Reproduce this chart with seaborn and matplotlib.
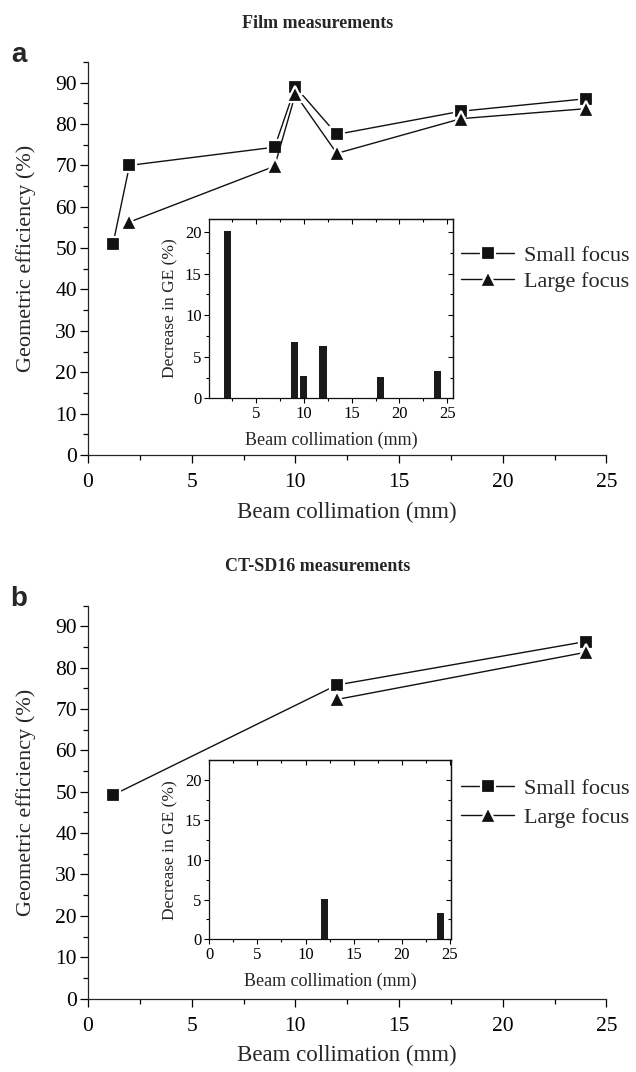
"""
Geometric efficiency vs beam collimation, film and CT-SD16 measurements
"""

import matplotlib
matplotlib.use("Agg")
import matplotlib.pyplot as plt
from matplotlib.ticker import MultipleLocator
import seaborn as sns

# Panel a - film measurements
FILM_SMALL_X = [1.2, 2, 9, 10, 12, 18, 24]
FILM_SMALL_GE = [50.9, 70.0, 74.4, 89.0, 77.5, 83.1, 86.1]
FILM_LARGE_X = [2, 9, 10, 12, 18, 24]
FILM_LARGE_GE = [56.3, 69.8, 87.2, 72.9, 81.3, 83.7]
FILM_DECREASE_X = [2, 9, 10, 12, 18, 24]
FILM_DECREASE = [20.1, 6.8, 2.7, 6.3, 2.6, 3.3]

# Panel b - CT-SD16 measurements
SD16_SMALL_X = [1.2, 12, 24]
SD16_SMALL_GE = [49.2, 75.8, 86.3]
SD16_LARGE_X = [12, 24]
SD16_LARGE_GE = [72.3, 83.7]
SD16_DECREASE_X = [12, 24]
SD16_DECREASE = [5.1, 3.3]

SERIES_LABELS = ['Small focus', 'Large focus']
XLABEL = 'Beam collimation (mm)'
YLABEL = 'Geometric efficiency (%)'
INSET_YLABEL = 'Decrease in GE (%)'

sns.set_theme(style='ticks')
plt.rcParams['font.family'] = ['Liberation Serif', 'DejaVu Serif']
plt.rcParams['axes.linewidth'] = 0.9
plt.rcParams['xtick.color'] = 'black'
plt.rcParams['ytick.color'] = 'black'

INK = '#111111'


def draw_panel(fig, rect, letter, title, small_x, small_y, large_x, large_y,
               bar_x, bar_y, inset_box, inset_xlim, inset_ylim, inset_xticks,
               legend_y, legend_spacing):
    ax = fig.add_axes(rect)

    sns.lineplot(x=small_x, y=small_y, ax=ax, color=INK, marker='s',
                 markersize=10, markeredgecolor='white', markeredgewidth=1.6,
                 linewidth=1.0, sort=False, label=SERIES_LABELS[0])
    sns.lineplot(x=large_x, y=large_y, ax=ax, color=INK, marker='^',
                 markersize=11.5, markeredgecolor='white', markeredgewidth=1.6,
                 linewidth=1.0, sort=False, label=SERIES_LABELS[1])

    ax.set_xlim(0, 25)
    ax.set_ylim(0, 95)
    ax.xaxis.set_major_locator(MultipleLocator(5))
    ax.xaxis.set_minor_locator(MultipleLocator(2.5))
    ax.yaxis.set_major_locator(MultipleLocator(10))
    ax.yaxis.set_minor_locator(MultipleLocator(5))
    ax.set_yticks(range(0, 91, 10))
    ax.tick_params(which='major', direction='out', length=6, width=0.9,
                   labelsize=15.5)
    ax.tick_params(which='minor', direction='out', length=3.5, width=0.9)
    ax.tick_params(axis='x', which='major', pad=7)
    ax.tick_params(axis='y', which='major', pad=2)
    sns.despine(ax=ax)
    ax.set_xlabel(XLABEL, fontsize=16.5, labelpad=7)
    ax.set_ylabel(YLABEL, fontsize=16, labelpad=14)

    handles = ax.get_lines()[:2]
    ax.legend(handles, SERIES_LABELS, loc='center left',
              bbox_to_anchor=(0.7195, legend_y), frameon=False,
              borderaxespad=0, borderpad=0, handlelength=2.4,
              handletextpad=0.45, labelspacing=legend_spacing, fontsize=16)

    # Inset with the decrease in GE
    ins = ax.inset_axes(inset_box, transform=ax.transData)
    ins.set_facecolor('white')
    ins.bar(bar_x, bar_y, width=0.75, color='#1a1a1a', linewidth=0)
    ins.set_xlim(*inset_xlim)
    ins.set_ylim(*inset_ylim)
    ins.set_xticks(inset_xticks)
    ins.xaxis.set_minor_locator(MultipleLocator(2.5))
    ins.yaxis.set_major_locator(MultipleLocator(5))
    ins.yaxis.set_minor_locator(MultipleLocator(2.5))
    ins.tick_params(which='major', direction='out', length=3.5, width=0.8,
                    labelsize=12, pad=2)
    ins.tick_params(which='minor', direction='out', length=2, width=0.8)
    for spine in ins.spines.values():
        spine.set_visible(True)
        spine.set_linewidth(0.9)
        spine.set_color(INK)
    ins.set_xlabel(XLABEL, fontsize=13, labelpad=7)
    ins.set_ylabel(INSET_YLABEL, fontsize=12.5, labelpad=5)

    top = ins.secondary_xaxis('top')
    top.xaxis.set_major_locator(MultipleLocator(5))
    top.xaxis.set_minor_locator(MultipleLocator(2.5))
    top.tick_params(which='both', direction='in', labeltop=False, width=0.8)
    top.tick_params(which='major', length=3.5)
    top.tick_params(which='minor', length=2)
    right = ins.secondary_yaxis('right')
    right.yaxis.set_major_locator(MultipleLocator(5))
    right.yaxis.set_minor_locator(MultipleLocator(2.5))
    right.tick_params(which='both', direction='in', labelright=False, width=0.8)
    right.tick_params(which='major', length=3.5)
    right.tick_params(which='minor', length=2)

    # Title and panel letter
    fig.text(0.5, rect[1] + rect[3] + 0.0363, title, ha='center', va='center',
             fontsize=13, fontweight='bold')
    fig.text(0.03, rect[1] + rect[3] + 0.0065, letter, ha='center',
             va='center', fontsize=20, fontweight='bold',
             family=['Liberation Sans', 'DejaVu Sans'])
    return ax


fig = plt.figure(figsize=(6.36, 10.72), dpi=100)

draw_panel(fig, [0.1384, 0.5756, 0.815, 0.3666], 'a', 'Film measurements',
           FILM_SMALL_X, FILM_SMALL_GE, FILM_LARGE_X, FILM_LARGE_GE,
           FILM_DECREASE_X, FILM_DECREASE,
           [5.85, 13.7, 11.75, 43.4], (0.1, 25.6), (0, 21.6),
           [5, 10, 15, 20, 25], 0.475, 0.25)

draw_panel(fig, [0.1384, 0.0685, 0.815, 0.3666], 'b', 'CT-SD16 measurements',
           SD16_SMALL_X, SD16_SMALL_GE, SD16_LARGE_X, SD16_LARGE_GE,
           SD16_DECREASE_X, SD16_DECREASE,
           [5.85, 14.3, 11.65, 43.3], (0, 25.1), (0, 22.45),
           [0, 5, 10, 15, 20, 25], 0.497, 0.4)

fig.savefig('out.png', dpi=100)
